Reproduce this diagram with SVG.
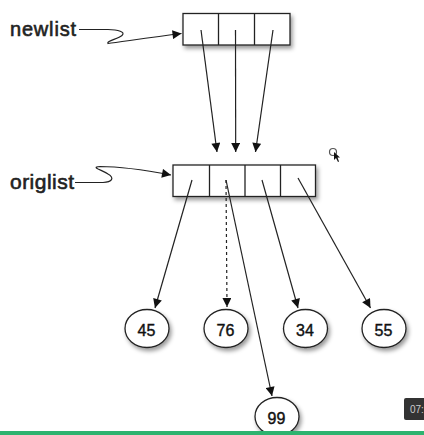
<svg xmlns="http://www.w3.org/2000/svg" width="424" height="435" viewBox="0 0 424 435">
<defs>
<filter id="sh" x="-20%" y="-20%" width="150%" height="160%">
<feDropShadow dx="2" dy="3" stdDeviation="2.2" flood-color="#000" flood-opacity="0.4"/>
</filter>
<marker id="ah" viewBox="0 0 10 10" refX="10" refY="5" markerWidth="11" markerHeight="9" markerUnits="userSpaceOnUse" orient="auto">
<path d="M0,0 L10,5 L0,10 Z" fill="#111"/>
</marker>
</defs>
<style>
.box{fill:#fff;stroke:#222;stroke-width:1.3}
.div{stroke:#222;stroke-width:1.3}
.lbl{font-family:"Liberation Sans",Arial,sans-serif;fill:#222;stroke:#222;stroke-width:0.6}
.num{font-family:"Liberation Sans",Arial,sans-serif;font-size:16px;fill:#111;stroke:#111;stroke-width:0.4;text-anchor:middle}
.ell{fill:#fff;stroke:#222;stroke-width:1.3}
.c{fill:none;stroke:#222;stroke-width:1.2;marker-end:url(#ah)}
.d{stroke-dasharray:3,3}
</style>
<rect width="424" height="435" fill="#fff"/>
<g id="newlist">
<text class="lbl" x="10" y="36" font-size="20" textLength="66">newlist</text>
</g>
<g id="origlist">
<text class="lbl" x="10" y="189" font-size="21" textLength="64">origlist</text>
</g>
<g id="newarr">
<rect class="box" x="183" y="13.5" width="107" height="31.5" filter="url(#sh)"/>
<line class="div" x1="218.5" y1="13.5" x2="218.5" y2="45"/>
<line class="div" x1="254.5" y1="13.5" x2="254.5" y2="45"/>
</g>
<g id="origarr">
<rect class="box" x="173" y="165" width="142.5" height="31.5" filter="url(#sh)"/>
<line class="div" x1="209.5" y1="165" x2="209.5" y2="196.5"/>
<line class="div" x1="245" y1="165" x2="245" y2="196.5"/>
<line class="div" x1="280.5" y1="165" x2="280.5" y2="196.5"/>
</g>
<g id="n45"><ellipse class="ell" cx="147" cy="328.5" rx="22" ry="19" filter="url(#sh)"/><text class="num" x="146.5" y="335.5">45</text></g>
<g id="n76"><ellipse class="ell" cx="226" cy="328.5" rx="22" ry="19" filter="url(#sh)"/><text class="num" x="225.5" y="335.5">76</text></g>
<g id="n34"><ellipse class="ell" cx="305.5" cy="328.5" rx="22" ry="19" filter="url(#sh)"/><text class="num" x="305" y="335.5">34</text></g>
<g id="n55"><ellipse class="ell" cx="384" cy="328.5" rx="22" ry="19" filter="url(#sh)"/><text class="num" x="383.5" y="335.5">55</text></g>
<g id="n99"><ellipse class="ell" cx="277" cy="416.5" rx="22" ry="19" filter="url(#sh)"/><text class="num" x="276.5" y="423.5">99</text></g>
<g id="connectors">
<path class="c" d="M79,29.5 L108,29.5 C118,29.5 126,32 122,35.5 C118,39 106,41 108,43.5 C120,42 150,37.5 181.5,33.5"/>
<path class="c" d="M75,182.5 L103,182.5 C112,182 115,178 108,174 C102,170 90,167 100,166.5 C125,166.5 150,171 171,175"/>
<line class="c" x1="201" y1="30" x2="217" y2="152"/>
<line class="c" x1="235.5" y1="30" x2="235.7" y2="152"/>
<line class="c" x1="273" y1="30" x2="255.5" y2="152"/>
<line class="c" x1="192" y1="180" x2="155" y2="308"/>
<line class="c d" x1="226" y1="180" x2="227" y2="307"/>
<line class="c" x1="226" y1="180" x2="272" y2="396"/>
<line class="c" x1="262" y1="180" x2="298" y2="308"/>
<line class="c" x1="298" y1="178" x2="370.5" y2="308"/>
</g>
<g id="cursor">
<circle cx="333" cy="152" r="3.5" fill="none" stroke="#555" stroke-width="1.2"/>
<path d="M334,152 L334,160 L336,158 L338,162 L339,161.5 L337.5,157.5 L340,157.5 Z" fill="#111"/>
</g>
<g id="overlay">
<rect x="404" y="398" width="24" height="22" rx="2" fill="#333"/>
<text x="410" y="413" font-family="Liberation Sans,Arial,sans-serif" font-size="10" fill="#ccc">07:</text>
<rect x="0" y="431" width="424" height="4" fill="#2db36f"/>
</g>
</svg>
